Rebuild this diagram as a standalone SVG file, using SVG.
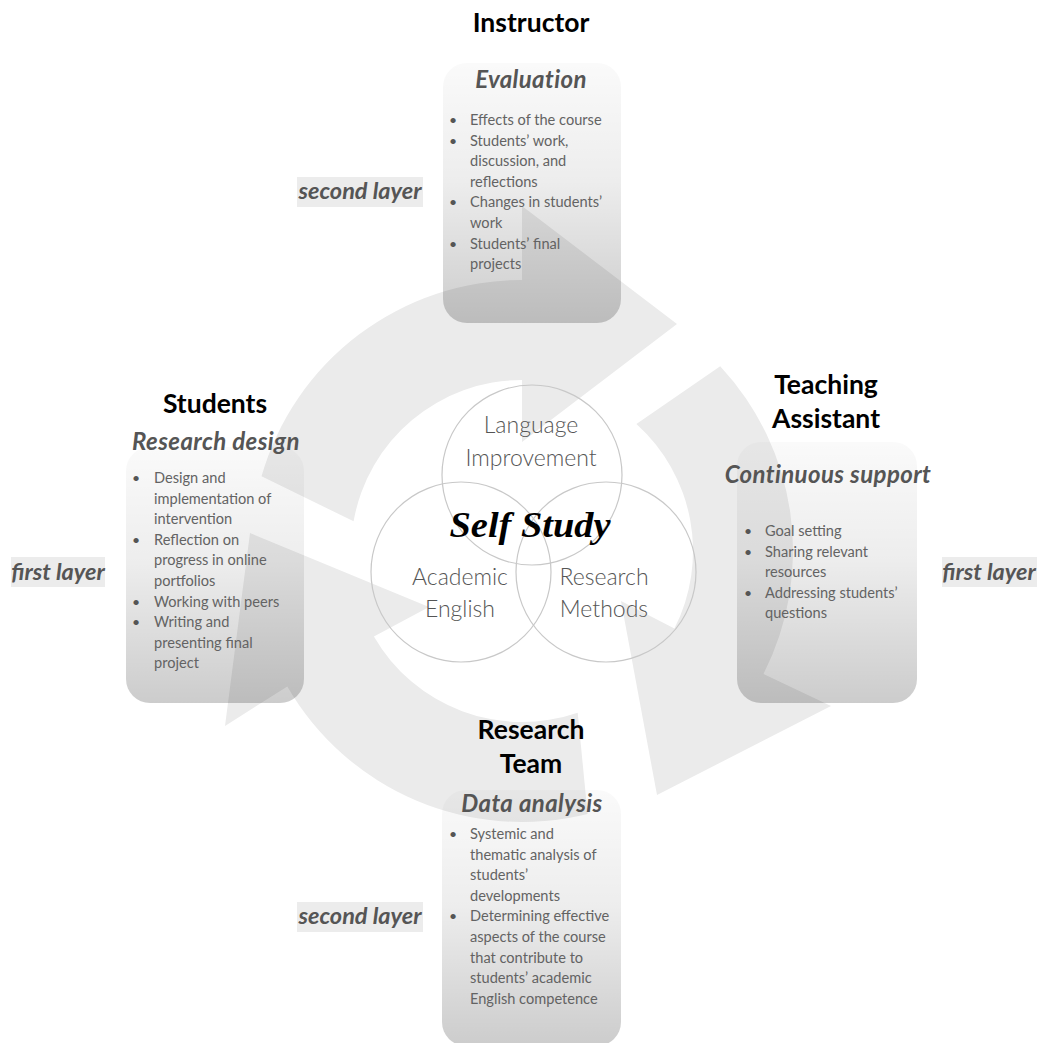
<svg xmlns="http://www.w3.org/2000/svg" width="1041" height="1043" viewBox="0 0 1041 1043">
<defs>
<linearGradient id="boxg" x1="0" y1="0" x2="0" y2="1">
<stop offset="0" stop-color="#000" stop-opacity="0.02"/>
<stop offset="0.45" stop-color="#000" stop-opacity="0.07"/>
<stop offset="1" stop-color="#000" stop-opacity="0.2"/>
</linearGradient>
<style>
.arrow{fill:#ebebeb;stroke:none}
.box{fill:url(#boxg);stroke:none}
.title{font-family:Lato,"Noto Sans",sans-serif;font-weight:700;font-size:26.5px;fill:#000;text-anchor:middle}
.sub{font-family:Lato,"Noto Sans",sans-serif;font-weight:700;font-style:italic;font-size:24px;letter-spacing:0.4px;fill:#555;text-anchor:middle}
.item{font-family:Lato,"Noto Sans",sans-serif;font-weight:400;font-size:14.6px;fill:#636363}
.dot{font-family:Lato,"Noto Sans",sans-serif;font-size:14px;fill:#555}
.layerbg{fill:#ececec}
.layer{font-family:Lato,"Noto Sans",sans-serif;font-weight:700;font-style:italic;font-size:23.5px;fill:#555;text-anchor:middle}
.venn{fill:none;stroke:#c8c8c8;stroke-width:1.2}
.vlabel{font-family:Lato,"Noto Sans",sans-serif;font-weight:300;font-size:23px;fill:#555;text-anchor:middle}
.core{font-family:"Liberation Serif","DejaVu Serif",serif;font-style:italic;font-weight:700;font-size:36px;fill:#000;text-anchor:middle}
</style>
</defs>
<rect width="1041" height="1043" fill="#fff"/>

<g id="connectors">
<path class="arrow" d="M261.5,476.3 A271,271 0 0 1 522,280 L522,206 L677,324 L522,442 L522,380 A171,171 0 0 0 353.6,521.3 Z"/>
<path class="arrow" d="M720.2,366.2 A271,271 0 0 1 763.5,674 L831,706 L657,795 L621,601 L674.4,628.6 A171,171 0 0 0 636.4,423.9 Z"/>
<path class="arrow" d="M587.6,813.9 A271,271 0 0 1 287.3,686.5 L225,726 L250,533 L429,607 L373.9,636.5 A171,171 0 0 0 577.7,712.7 Z"/>
</g>

<g id="instructor">
<text class="title" x="531" y="32">Instructor</text>
<rect class="box" x="443" y="63" width="178" height="260" rx="24"/>
<text class="sub" x="531" y="88">Evaluation</text>
<g class="dot"><text x="449" y="125">•</text><text x="449" y="145.6">•</text><text x="449" y="207.4">•</text><text x="449" y="248.6">•</text></g>
<text class="item" x="470" y="125">Effects of the course</text>
<text class="item" x="470" y="145.6">Students’ work,</text>
<text class="item" x="470" y="166.2">discussion, and</text>
<text class="item" x="470" y="186.8">reflections</text>
<text class="item" x="470" y="207.4">Changes in students’</text>
<text class="item" x="470" y="228">work</text>
<text class="item" x="470" y="248.6">Students’ final</text>
<text class="item" x="470" y="269.2">projects</text>
</g>

<g id="students">
<text class="title" x="215" y="413">Students</text>
<rect class="box" x="126" y="447" width="178" height="256" rx="24"/>
<text class="sub" x="216" y="450">Research design</text>
<g class="dot"><text x="132" y="483">•</text><text x="132" y="544.8">•</text><text x="132" y="606.6">•</text><text x="132" y="627.2">•</text></g>
<text class="item" x="154" y="483">Design and</text>
<text class="item" x="154" y="503.6">implementation of</text>
<text class="item" x="154" y="524.2">intervention</text>
<text class="item" x="154" y="544.8">Reflection on</text>
<text class="item" x="154" y="565.4">progress in online</text>
<text class="item" x="154" y="586">portfolios</text>
<text class="item" x="154" y="606.6">Working with peers</text>
<text class="item" x="154" y="627.2">Writing and</text>
<text class="item" x="154" y="647.8">presenting final</text>
<text class="item" x="154" y="668.4">project</text>
</g>

<g id="teaching-assistant">
<text class="title" x="826" y="394">Teaching</text>
<text class="title" x="826" y="428">Assistant</text>
<rect class="box" x="737" y="442" width="180" height="261" rx="24"/>
<text class="sub" x="828" y="483">Continuous support</text>
<g class="dot"><text x="744" y="536">•</text><text x="744" y="556.6">•</text><text x="744" y="597.8">•</text></g>
<text class="item" x="765" y="536">Goal setting</text>
<text class="item" x="765" y="556.6">Sharing relevant</text>
<text class="item" x="765" y="577.2">resources</text>
<text class="item" x="765" y="597.8">Addressing students’</text>
<text class="item" x="765" y="618.4">questions</text>
</g>

<g id="research-team">
<text class="title" x="531" y="739">Research</text>
<text class="title" x="531" y="773">Team</text>
<rect class="box" x="442" y="790" width="179" height="256" rx="24"/>
<text class="sub" x="532" y="812">Data analysis</text>
<g class="dot"><text x="449" y="839">•</text><text x="449" y="921.4">•</text></g>
<text class="item" x="470" y="839">Systemic and</text>
<text class="item" x="470" y="859.6">thematic analysis of</text>
<text class="item" x="470" y="880.2">students’</text>
<text class="item" x="470" y="900.8">developments</text>
<text class="item" x="470" y="921.4">Determining effective</text>
<text class="item" x="470" y="942">aspects of the course</text>
<text class="item" x="470" y="962.6">that contribute to</text>
<text class="item" x="470" y="983.2">students’ academic</text>
<text class="item" x="470" y="1003.8">English competence</text>
</g>

<g id="layer-labels">
<rect class="layerbg" x="297" y="177" width="126" height="30"/>
<text class="layer" x="360" y="199">second layer</text>
<rect class="layerbg" x="297" y="902" width="126" height="30"/>
<text class="layer" x="360" y="924">second layer</text>
<rect class="layerbg" x="11" y="557" width="94" height="30"/>
<text class="layer" x="58" y="580">first layer</text>
<rect class="layerbg" x="942" y="557" width="95" height="30"/>
<text class="layer" x="989" y="580">first layer</text>
</g>

<g id="self-study">
<circle class="venn" cx="532" cy="475" r="90"/>
<circle class="venn" cx="461" cy="572" r="90"/>
<circle class="venn" cx="606" cy="572" r="90"/>
<text class="vlabel" x="531" y="433">Language</text>
<text class="vlabel" x="531" y="466">Improvement</text>
<text class="vlabel" x="460" y="585">Academic</text>
<text class="vlabel" x="460" y="617">English</text>
<text class="vlabel" x="604" y="585">Research</text>
<text class="vlabel" x="604" y="617">Methods</text>
<text class="core" x="530" y="537" textLength="161" lengthAdjust="spacingAndGlyphs">Self Study</text>
</g>
</svg>
